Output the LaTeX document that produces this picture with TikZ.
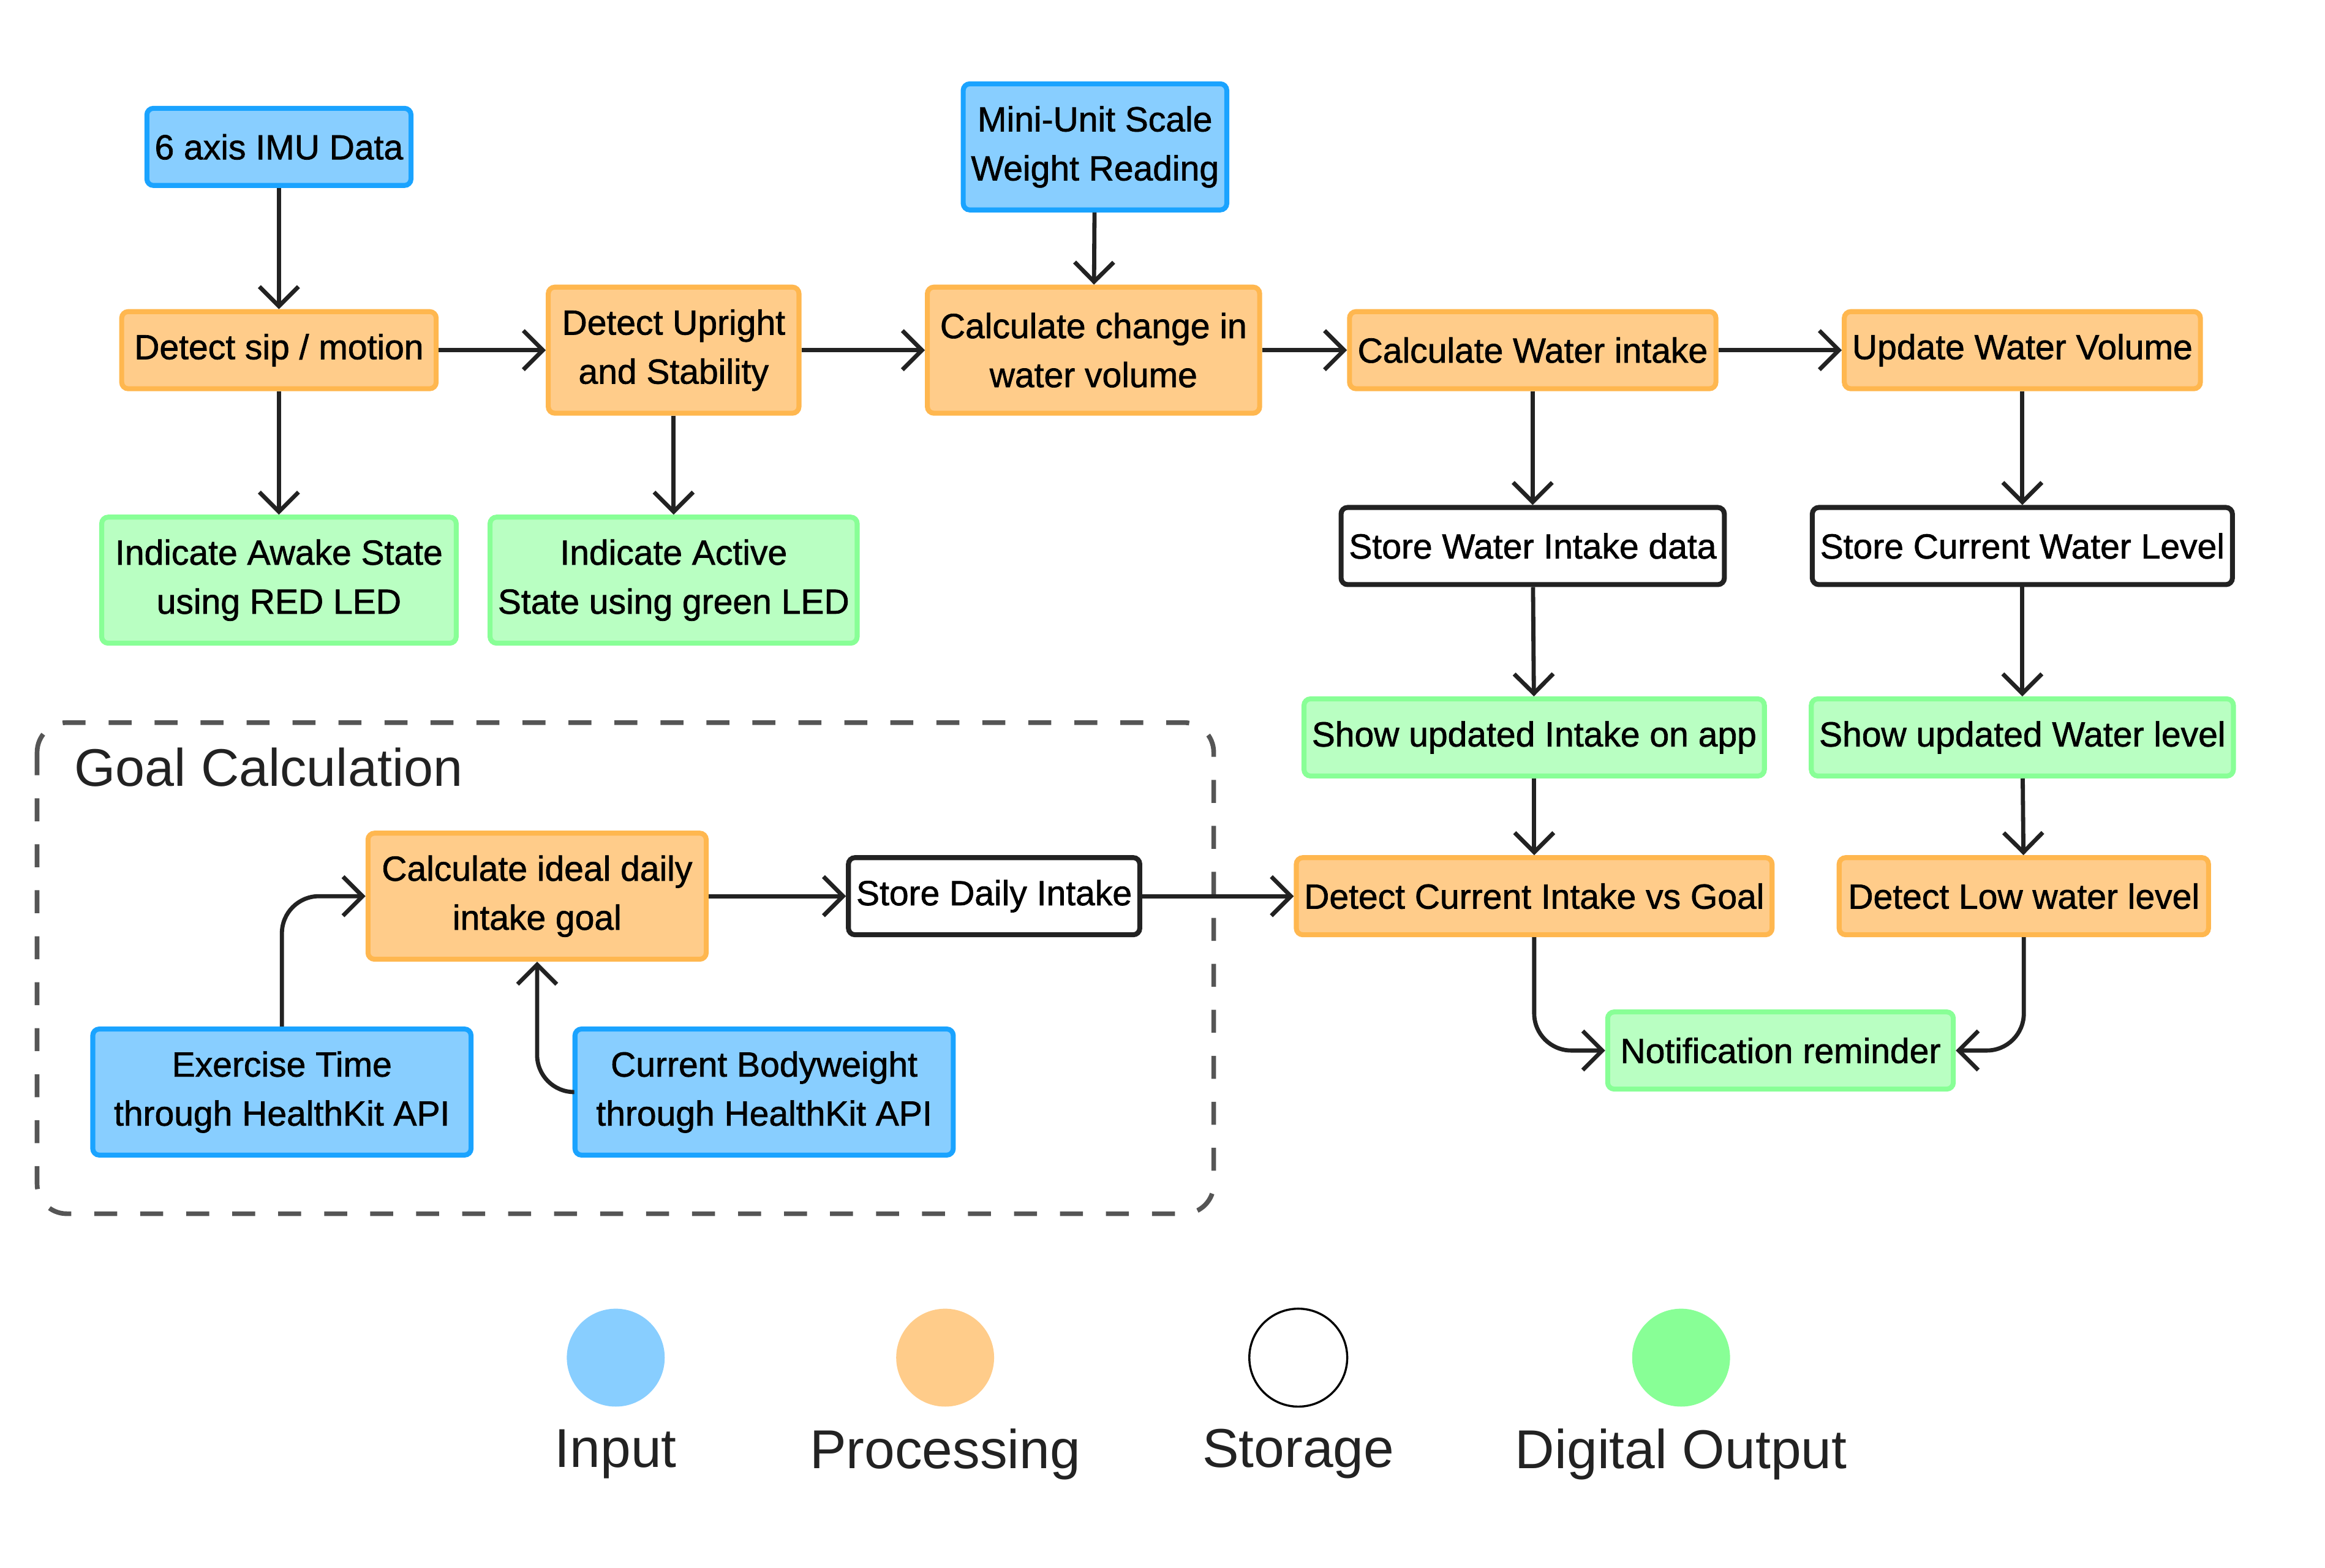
\documentclass[tikz,border=0pt]{standalone}
\usepackage{fontspec}
\setmainfont{Liberation Sans}
\newfontfamily\medfont{Liberation Sans}[FakeBold=1.2]
\usetikzlibrary{arrows.meta}

\definecolor{inFill}{HTML}{88CEFF}
\definecolor{inLine}{HTML}{1AA3FF}
\definecolor{procFill}{HTML}{FFCC8A}
\definecolor{procLine}{HTML}{FFB74F}
\definecolor{outFill}{HTML}{B9FFC2}
\definecolor{outLine}{HTML}{88FF96}
\definecolor{lineCol}{HTML}{222222}
\definecolor{dashCol}{HTML}{555555}

\tikzset{
  blk/.style={draw, line width=1.9pt, rounded corners=2.5pt, align=center, inner xsep=3pt,
    minimum height=1.04cm, text=black, font=\medfont\fontsize{13.4pt}{18.8pt}\selectfont},
  tall/.style={minimum height=1.7cm},
  inbox/.style={blk, fill=inFill, draw=inLine},
  procbox/.style={blk, fill=procFill, draw=procLine},
  storebox/.style={blk, fill=white, draw=lineCol},
  outbox/.style={blk, fill=outFill, draw=outLine},
  flow/.style={->, line width=1.6pt, draw=lineCol},
  dot/.style={circle, minimum size=1.32cm, inner sep=0pt},
  legtext/.style={font=\fontsize{21pt}{25pt}\selectfont, text=lineCol},
  >={Straight Barb[length=7.5pt,width=15pt]}
}

\begin{document}
\begin{tikzpicture}[x=0.02cm, y=-0.02cm]
  \useasboundingbox (0,0) rectangle (1567,1056.7);

  % goal calculation group
  \draw[dashCol, line width=1.8pt, rounded corners=0.4cm, dash pattern=on 0.31cm off 0.31cm]
    (25,487) rectangle (818,818);
  \node[legtext, anchor=west, font=\fontsize{20.3pt}{24pt}\selectfont] (grp) at (44,517) {Goal Calculation};

  % inputs
  \node[inbox, minimum width=3.5cm] (imu) at (188,99) {6 axis IMU Data};
  \node[inbox, tall, minimum width=3.52cm] (scale) at (738,99) {Mini-Unit Scale\\Weight Reading};
  \node[inbox, tall, minimum width=5.1cm] (exercise) at (190,736) {Exercise Time\\through HealthKit API};
  \node[inbox, tall, minimum width=5.1cm] (weight) at (515,736) {Current Bodyweight\\through HealthKit API};

  % processing
  \node[procbox, minimum width=4.24cm] (sip) at (188,236) {Detect sip / motion};
  \node[procbox, tall, minimum width=3.38cm] (upright) at (454,236) {Detect Upright\\and Stability};
  \node[procbox, tall, minimum width=4.48cm] (change) at (737,236) {Calculate change in\\water volume};
  \node[procbox, minimum width=4.94cm] (intake) at (1033,236) {Calculate Water intake};
  \node[procbox, minimum width=4.78cm] (volume) at (1363,236) {Update Water Volume};
  \node[procbox, minimum width=6.36cm] (vsgoal) at (1034,604) {Detect Current Intake vs Goal};
  \node[procbox, minimum width=4.98cm] (low) at (1364,604) {Detect Low water level};
  \node[procbox, tall, minimum width=4.56cm] (ideal) at (362,604) {Calculate ideal daily\\intake goal};

  % storage
  \node[storebox, minimum width=5.12cm] (storeintake) at (1033,368) {Store Water Intake data};
  \node[storebox, minimum width=5.6cm] (storelevel) at (1363,368) {Store Current Water Level};
  \node[storebox, minimum width=3.92cm] (storedaily) at (670,604) {Store Daily Intake};

  % outputs
  \node[outbox, tall, minimum width=4.78cm] (awake) at (188,391) {Indicate Awake State\\using RED LED};
  \node[outbox, tall, minimum width=4.86cm] (active) at (454,391) {Indicate Active\\State using green LED};
  \node[outbox, minimum width=6.18cm] (showintake) at (1034,497) {Show updated Intake on app};
  \node[outbox, minimum width=5.68cm] (showlevel) at (1363,497) {Show updated Water level};
  \node[outbox, minimum width=4.66cm] (notify) at (1200,708) {Notification reminder};

  % polaczenia
  \draw[flow] (imu) -- (sip);
  \draw[flow] (sip) -- (awake);
  \draw[flow] (sip) -- (upright);
  \draw[flow] (upright) -- (active);
  \draw[flow] (upright) -- (change);
  \draw[flow] (scale) -- (change);
  \draw[flow] (change) -- (intake);
  \draw[flow] (intake) -- (volume);
  \draw[flow] (intake) -- (storeintake);
  \draw[flow] (volume) -- (storelevel);
  \draw[flow] (storeintake) -- (showintake);
  \draw[flow] (storelevel) -- (showlevel);
  \draw[flow] (showintake) -- (vsgoal);
  \draw[flow] (showlevel) -- (low);
  \draw[flow, rounded corners=0.5cm] (vsgoal.south) |- (notify.west);
  \draw[flow, rounded corners=0.5cm] (low.south) |- (notify.east);
  \draw[flow] (ideal) -- (storedaily);
  \draw[flow] (storedaily) -- (vsgoal);
  \draw[flow, rounded corners=0.5cm] (exercise.north) |- (ideal.west);
  \draw[flow, rounded corners=0.5cm] (weight.west) -| (ideal.south);

  % legenda
  \node[dot, fill=inFill] (lin) at (415,915) {};
  \node[dot, fill=procFill] (lproc) at (637,915) {};
  \node[dot, draw=black, line width=0.8pt, fill=white] (lstore) at (875,915) {};
  \node[dot, fill=outLine] (lout) at (1133,915) {};
  \node[legtext] (tin) at (415,980) {Input};
  \node[legtext] (tproc) at (637,980) {Processing};
  \node[legtext] (tstore) at (875,980) {Storage};
  \node[legtext] (tout) at (1133,980) {Digital Output};
\end{tikzpicture}
\end{document}
